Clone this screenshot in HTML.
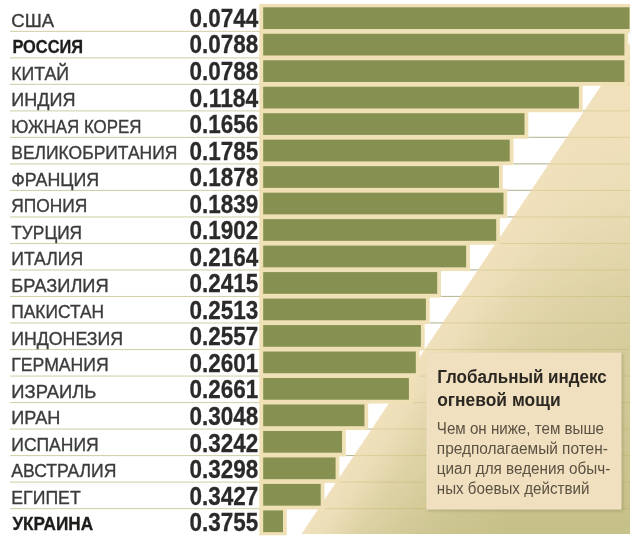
<!DOCTYPE html>
<html lang="ru"><head><meta charset="utf-8"><title>Глобальный индекс огневой мощи</title>
<style>
html,body{margin:0;padding:0;background:#fff;}
body{width:636px;height:537px;overflow:hidden;}
svg{display:block;}
text{font-family:"Liberation Sans",sans-serif;}
.lab{font-size:17.8px;fill:#3c3c3b;stroke:#3c3c3b;stroke-width:0.35px;}
.labb{font-size:17.8px;font-weight:bold;fill:#1d1d1b;stroke:#1d1d1b;stroke-width:0.3px;}
.num{font-size:25.5px;font-weight:bold;fill:#2b2a29;stroke:#2b2a29;stroke-width:0.3px;}
.ttl{font-size:18.8px;font-weight:bold;fill:#2b2822;}
.bod{font-size:16px;fill:#5a5142;}
</style></head><body>
<svg width="636" height="537" viewBox="0 0 636 537">
<defs>
<linearGradient id="gd" gradientUnits="userSpaceOnUse" x1="450" y1="313.3" x2="588.1" y2="405.4">
<stop offset="0" stop-color="#c6c089" stop-opacity="0"/><stop offset="0.1" stop-color="#c6c089" stop-opacity="0.1"/><stop offset="0.27" stop-color="#c6c089" stop-opacity="0.45"/><stop offset="0.48" stop-color="#c6c089" stop-opacity="0.7"/><stop offset="0.68" stop-color="#c6c089" stop-opacity="0.86"/><stop offset="1" stop-color="#c6c089" stop-opacity="1"/>
</linearGradient>
<linearGradient id="gy" gradientUnits="userSpaceOnUse" x1="0" y1="130" x2="0" y2="523">
<stop offset="0" stop-color="#000"/><stop offset="0.18" stop-color="#303030"/><stop offset="0.43" stop-color="#8c8c8c"/><stop offset="1" stop-color="#fff"/>
</linearGradient>
<mask id="my" maskUnits="userSpaceOnUse" x="0" y="0" width="636" height="537"><rect width="636" height="537" fill="url(#gy)"/></mask>
<filter id="sh" x="-10%" y="-10%" width="120%" height="120%"><feGaussianBlur stdDeviation="1.5"/></filter>
</defs>
<rect width="636" height="537" fill="#fff"/>
<rect x="628.2" y="57.21" width="1.8" height="1.1" fill="#bfc3b4"/>
<rect x="628.2" y="83.73" width="1.8" height="1.1" fill="#bfc3b4"/>
<rect x="582.7" y="110.25" width="47.3" height="1.1" fill="#bfc3b4"/>
<rect x="528.3" y="136.76" width="101.7" height="1.1" fill="#bfc3b4"/>
<rect x="513.5" y="163.28" width="116.5" height="1.1" fill="#bfc3b4"/>
<rect x="502.8" y="189.79" width="127.2" height="1.1" fill="#bfc3b4"/>
<rect x="507.3" y="216.31" width="122.7" height="1.1" fill="#bfc3b4"/>
<rect x="500.0" y="242.82" width="130.0" height="1.1" fill="#bfc3b4"/>
<rect x="469.9" y="269.33" width="160.1" height="1.1" fill="#bfc3b4"/>
<rect x="441.0" y="295.85" width="189.0" height="1.1" fill="#bfc3b4"/>
<rect x="429.7" y="322.37" width="200.3" height="1.1" fill="#bfc3b4"/>
<rect x="424.7" y="348.88" width="205.3" height="1.1" fill="#bfc3b4"/>
<rect x="419.6" y="375.39" width="210.4" height="1.1" fill="#bfc3b4"/>
<rect x="412.7" y="401.91" width="217.3" height="1.1" fill="#bfc3b4"/>
<rect x="368.2" y="428.43" width="261.8" height="1.1" fill="#bfc3b4"/>
<rect x="345.8" y="454.94" width="284.2" height="1.1" fill="#bfc3b4"/>
<rect x="339.4" y="481.45" width="290.6" height="1.1" fill="#bfc3b4"/>
<rect x="324.5" y="507.97" width="305.5" height="1.1" fill="#bfc3b4"/>
<polygon points="630,42.3 630,534 301.5,534" fill="#f0e1bc"/>
<g mask="url(#my)"><polygon points="630,42.3 630,534 301.5,534" fill="url(#gd)"/></g>
<rect x="10" y="30.80" width="250" height="1.1" fill="#d3d1ab"/>
<rect x="10" y="57.31" width="250" height="1.1" fill="#d3d1ab"/>
<rect x="10" y="83.83" width="250" height="1.1" fill="#d3d1ab"/>
<rect x="10" y="110.34" width="250" height="1.1" fill="#d3d1ab"/>
<rect x="10" y="136.86" width="250" height="1.1" fill="#d3d1ab"/>
<rect x="10" y="163.38" width="250" height="1.1" fill="#d3d1ab"/>
<rect x="10" y="189.89" width="250" height="1.1" fill="#d3d1ab"/>
<rect x="10" y="216.41" width="250" height="1.1" fill="#d3d1ab"/>
<rect x="10" y="242.92" width="250" height="1.1" fill="#d3d1ab"/>
<rect x="10" y="269.44" width="250" height="1.1" fill="#d3d1ab"/>
<rect x="10" y="295.95" width="250" height="1.1" fill="#d3d1ab"/>
<rect x="10" y="322.47" width="250" height="1.1" fill="#d3d1ab"/>
<rect x="10" y="348.98" width="250" height="1.1" fill="#d3d1ab"/>
<rect x="10" y="375.50" width="250" height="1.1" fill="#d3d1ab"/>
<rect x="10" y="402.01" width="250" height="1.1" fill="#d3d1ab"/>
<rect x="10" y="428.53" width="250" height="1.1" fill="#d3d1ab"/>
<rect x="10" y="455.04" width="250" height="1.1" fill="#d3d1ab"/>
<rect x="10" y="481.56" width="250" height="1.1" fill="#d3d1ab"/>
<rect x="10" y="508.07" width="250" height="1.1" fill="#d3d1ab"/>
<rect x="628.2" y="57.36" width="1.8" height="1" fill="#a89438" opacity="0.22"/>
<rect x="628.2" y="83.88" width="1.8" height="1" fill="#a89438" opacity="0.22"/>
<rect x="582.7" y="110.39" width="47.3" height="1" fill="#a89438" opacity="0.22"/>
<rect x="528.3" y="136.91" width="101.7" height="1" fill="#a89438" opacity="0.22"/>
<rect x="513.5" y="163.43" width="116.5" height="1" fill="#a89438" opacity="0.22"/>
<rect x="502.8" y="189.94" width="127.2" height="1" fill="#a89438" opacity="0.22"/>
<rect x="507.3" y="216.46" width="122.7" height="1" fill="#a89438" opacity="0.22"/>
<rect x="500.0" y="242.97" width="130.0" height="1" fill="#a89438" opacity="0.22"/>
<rect x="469.9" y="269.49" width="160.1" height="1" fill="#a89438" opacity="0.22"/>
<rect x="441.0" y="296.00" width="189.0" height="1" fill="#a89438" opacity="0.22"/>
<rect x="429.7" y="322.52" width="200.3" height="1" fill="#a89438" opacity="0.22"/>
<rect x="424.7" y="349.03" width="205.3" height="1" fill="#a89438" opacity="0.22"/>
<rect x="419.6" y="375.55" width="210.4" height="1" fill="#a89438" opacity="0.22"/>
<rect x="412.7" y="402.06" width="217.3" height="1" fill="#a89438" opacity="0.22"/>
<rect x="368.2" y="428.58" width="261.8" height="1" fill="#a89438" opacity="0.22"/>
<rect x="345.8" y="455.09" width="284.2" height="1" fill="#a89438" opacity="0.22"/>
<rect x="339.4" y="481.61" width="290.6" height="1" fill="#a89438" opacity="0.22"/>
<rect x="324.5" y="508.12" width="305.5" height="1" fill="#a89438" opacity="0.22"/>
<rect x="259.3" y="4.00" width="370.7" height="28.80" fill="#efe0b6"/>
<rect x="259.3" y="29.98" width="368.9" height="29.30" fill="#efe0b6"/>
<rect x="259.3" y="56.46" width="368.9" height="29.30" fill="#efe0b6"/>
<rect x="259.3" y="82.94" width="323.4" height="29.30" fill="#efe0b6"/>
<rect x="259.3" y="109.42" width="269.0" height="29.30" fill="#efe0b6"/>
<rect x="259.3" y="135.90" width="254.2" height="29.30" fill="#efe0b6"/>
<rect x="259.3" y="162.38" width="243.5" height="29.30" fill="#efe0b6"/>
<rect x="259.3" y="188.86" width="248.0" height="29.30" fill="#efe0b6"/>
<rect x="259.3" y="215.34" width="240.7" height="29.30" fill="#efe0b6"/>
<rect x="259.3" y="241.82" width="210.6" height="29.30" fill="#efe0b6"/>
<rect x="259.3" y="268.30" width="181.7" height="29.30" fill="#efe0b6"/>
<rect x="259.3" y="294.78" width="170.4" height="29.30" fill="#efe0b6"/>
<rect x="259.3" y="321.26" width="165.4" height="29.30" fill="#efe0b6"/>
<rect x="259.3" y="347.74" width="160.3" height="29.30" fill="#efe0b6"/>
<rect x="259.3" y="374.22" width="153.4" height="29.30" fill="#efe0b6"/>
<rect x="259.3" y="400.70" width="108.9" height="29.30" fill="#efe0b6"/>
<rect x="259.3" y="427.18" width="86.5" height="29.30" fill="#efe0b6"/>
<rect x="259.3" y="453.66" width="80.1" height="29.30" fill="#efe0b6"/>
<rect x="259.3" y="480.14" width="65.2" height="29.30" fill="#efe0b6"/>
<rect x="259.3" y="506.62" width="27.5" height="28.68" fill="#efe0b6"/>
<rect x="263.2" y="7.30" width="366.3" height="21.7" fill="#869050"/>
<rect x="263.2" y="33.78" width="361.2" height="21.7" fill="#869050"/>
<rect x="263.2" y="60.26" width="361.2" height="21.7" fill="#869050"/>
<rect x="263.2" y="86.74" width="315.7" height="21.7" fill="#869050"/>
<rect x="263.2" y="113.22" width="261.3" height="21.7" fill="#869050"/>
<rect x="263.2" y="139.70" width="246.5" height="21.7" fill="#869050"/>
<rect x="263.2" y="166.18" width="235.8" height="21.7" fill="#869050"/>
<rect x="263.2" y="192.66" width="240.3" height="21.7" fill="#869050"/>
<rect x="263.2" y="219.14" width="233.0" height="21.7" fill="#869050"/>
<rect x="263.2" y="245.62" width="202.9" height="21.7" fill="#869050"/>
<rect x="263.2" y="272.10" width="174.0" height="21.7" fill="#869050"/>
<rect x="263.2" y="298.58" width="162.7" height="21.7" fill="#869050"/>
<rect x="263.2" y="325.06" width="157.7" height="21.7" fill="#869050"/>
<rect x="263.2" y="351.54" width="152.6" height="21.7" fill="#869050"/>
<rect x="263.2" y="378.02" width="145.7" height="21.7" fill="#869050"/>
<rect x="263.2" y="404.50" width="101.2" height="21.7" fill="#869050"/>
<rect x="263.2" y="430.98" width="78.8" height="21.7" fill="#869050"/>
<rect x="263.2" y="457.46" width="72.4" height="21.7" fill="#869050"/>
<rect x="263.2" y="483.94" width="57.5" height="21.7" fill="#869050"/>
<rect x="263.2" y="510.42" width="19.8" height="21.7" fill="#869050"/>
<text class="lab" x="11.3" y="26.75" textLength="42.8" lengthAdjust="spacingAndGlyphs">США</text>
<text class="num" x="189.6" y="26.90" textLength="68.7" lengthAdjust="spacingAndGlyphs">0.0744</text>
<text class="labb" x="12.4" y="53.24" textLength="70.7" lengthAdjust="spacingAndGlyphs">РОССИЯ</text>
<text class="num" x="189.6" y="53.44" textLength="68.7" lengthAdjust="spacingAndGlyphs">0.0788</text>
<text class="lab" x="11.3" y="79.73" textLength="57.8" lengthAdjust="spacingAndGlyphs">КИТАЙ</text>
<text class="num" x="189.6" y="79.98" textLength="68.7" lengthAdjust="spacingAndGlyphs">0.0788</text>
<text class="lab" x="11.3" y="106.22" textLength="64.1" lengthAdjust="spacingAndGlyphs">ИНДИЯ</text>
<text class="num" x="189.6" y="106.52" textLength="68.7" lengthAdjust="spacingAndGlyphs">0.1184</text>
<text class="lab" x="11.3" y="132.71" textLength="130.1" lengthAdjust="spacingAndGlyphs">ЮЖНАЯ КОРЕЯ</text>
<text class="num" x="189.6" y="133.06" textLength="68.7" lengthAdjust="spacingAndGlyphs">0.1656</text>
<text class="lab" x="11.3" y="159.20" textLength="166.1" lengthAdjust="spacingAndGlyphs">ВЕЛИКОБРИТАНИЯ</text>
<text class="num" x="189.6" y="159.60" textLength="68.7" lengthAdjust="spacingAndGlyphs">0.1785</text>
<text class="lab" x="11.3" y="185.69" textLength="87.8" lengthAdjust="spacingAndGlyphs">ФРАНЦИЯ</text>
<text class="num" x="189.6" y="186.14" textLength="68.7" lengthAdjust="spacingAndGlyphs">0.1878</text>
<text class="lab" x="11.3" y="212.18" textLength="76.1" lengthAdjust="spacingAndGlyphs">ЯПОНИЯ</text>
<text class="num" x="189.6" y="212.68" textLength="68.7" lengthAdjust="spacingAndGlyphs">0.1839</text>
<text class="lab" x="11.3" y="238.67" textLength="70.8" lengthAdjust="spacingAndGlyphs">ТУРЦИЯ</text>
<text class="num" x="189.6" y="239.22" textLength="68.7" lengthAdjust="spacingAndGlyphs">0.1902</text>
<text class="lab" x="11.3" y="265.16" textLength="71.8" lengthAdjust="spacingAndGlyphs">ИТАЛИЯ</text>
<text class="num" x="189.6" y="265.76" textLength="68.7" lengthAdjust="spacingAndGlyphs">0.2164</text>
<text class="lab" x="11.3" y="291.65" textLength="97.4" lengthAdjust="spacingAndGlyphs">БРАЗИЛИЯ</text>
<text class="num" x="189.6" y="292.30" textLength="68.7" lengthAdjust="spacingAndGlyphs">0.2415</text>
<text class="lab" x="11.3" y="318.14" textLength="92.8" lengthAdjust="spacingAndGlyphs">ПАКИСТАН</text>
<text class="num" x="189.6" y="318.84" textLength="68.7" lengthAdjust="spacingAndGlyphs">0.2513</text>
<text class="lab" x="11.3" y="344.63" textLength="111.8" lengthAdjust="spacingAndGlyphs">ИНДОНЕЗИЯ</text>
<text class="num" x="189.6" y="345.38" textLength="68.7" lengthAdjust="spacingAndGlyphs">0.2557</text>
<text class="lab" x="11.3" y="371.12" textLength="97.4" lengthAdjust="spacingAndGlyphs">ГЕРМАНИЯ</text>
<text class="num" x="189.6" y="371.92" textLength="68.7" lengthAdjust="spacingAndGlyphs">0.2601</text>
<text class="lab" x="11.3" y="397.61" textLength="85.1" lengthAdjust="spacingAndGlyphs">ИЗРАИЛЬ</text>
<text class="num" x="189.6" y="398.46" textLength="68.7" lengthAdjust="spacingAndGlyphs">0.2661</text>
<text class="lab" x="11.3" y="424.10" textLength="49.1" lengthAdjust="spacingAndGlyphs">ИРАН</text>
<text class="num" x="189.6" y="425.00" textLength="68.7" lengthAdjust="spacingAndGlyphs">0.3048</text>
<text class="lab" x="11.3" y="450.59" textLength="87.4" lengthAdjust="spacingAndGlyphs">ИСПАНИЯ</text>
<text class="num" x="189.6" y="451.54" textLength="68.7" lengthAdjust="spacingAndGlyphs">0.3242</text>
<text class="lab" x="11.3" y="477.08" textLength="105.1" lengthAdjust="spacingAndGlyphs">АВСТРАЛИЯ</text>
<text class="num" x="189.6" y="478.08" textLength="68.7" lengthAdjust="spacingAndGlyphs">0.3298</text>
<text class="lab" x="11.3" y="503.57" textLength="69.4" lengthAdjust="spacingAndGlyphs">ЕГИПЕТ</text>
<text class="num" x="189.6" y="504.62" textLength="68.7" lengthAdjust="spacingAndGlyphs">0.3427</text>
<text class="labb" x="12.4" y="530.06" textLength="80.7" lengthAdjust="spacingAndGlyphs">УКРАИНА</text>
<text class="num" x="189.6" y="531.16" textLength="68.7" lengthAdjust="spacingAndGlyphs">0.3755</text>
<rect x="427.8" y="354" width="195.3" height="157" fill="#6b6434" opacity="0.3" filter="url(#sh)"/>
<rect x="426.3" y="352.6" width="195.3" height="157" fill="#f1e0c0"/>
<text class="ttl" x="437.2" y="383.0" textLength="169.6" lengthAdjust="spacingAndGlyphs">Глобальный индекс</text>
<text class="ttl" x="437.2" y="405.6" textLength="123.4" lengthAdjust="spacingAndGlyphs">огневой мощи</text>
<text class="bod" x="436.8" y="433.9" textLength="167.2" lengthAdjust="spacingAndGlyphs">Чем он ниже, тем выше</text>
<text class="bod" x="436.8" y="453.8" textLength="171" lengthAdjust="spacingAndGlyphs">предполагаемый потен-</text>
<text class="bod" x="436.8" y="473.7" textLength="173.6" lengthAdjust="spacingAndGlyphs">циал для ведения обыч-</text>
<text class="bod" x="436.8" y="493.6" textLength="152.6" lengthAdjust="spacingAndGlyphs">ных боевых действий</text>
</svg>
</body></html>
